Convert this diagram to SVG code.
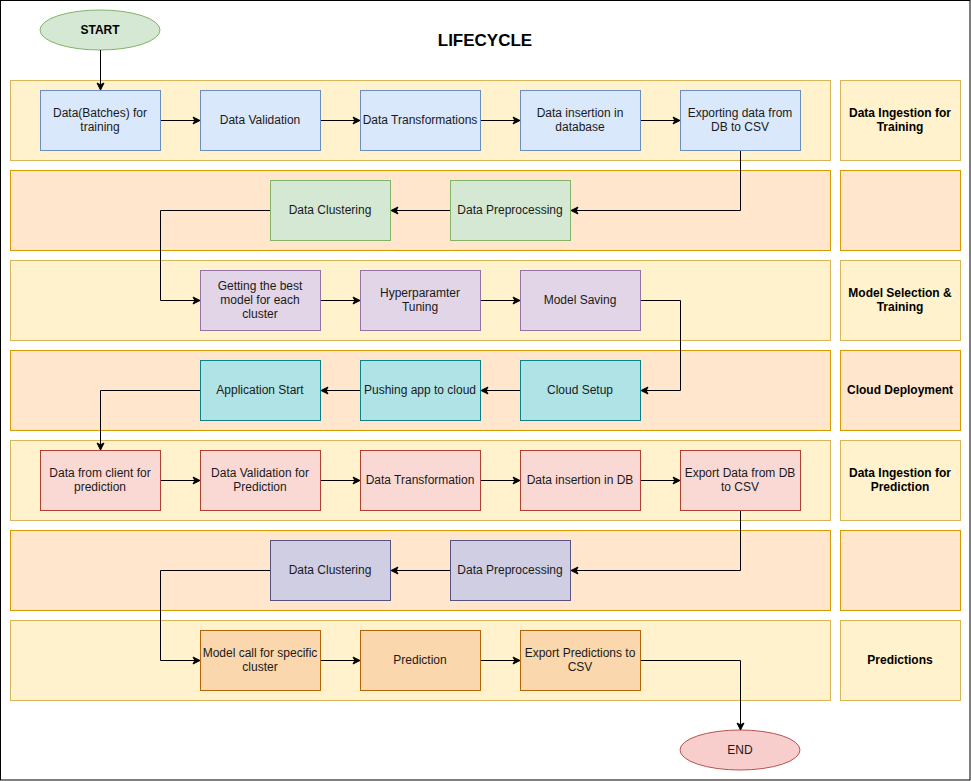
<svg xmlns="http://www.w3.org/2000/svg" width="971" height="781" viewBox="0 0 971 781">
<defs>
<marker id="arr" markerWidth="10" markerHeight="10" refX="8" refY="5" orient="auto" markerUnits="userSpaceOnUse">
<path d="M1,1.5 L8,5 L1,8.5 L2.8,5 Z" fill="#000" stroke="#000" stroke-width="1"/>
</marker>
<style>
text{font-family:"Liberation Sans",Arial,Helvetica,sans-serif;font-size:12px;fill:#1a1a1a;text-anchor:middle;dominant-baseline:central}
.b{font-weight:bold;fill:#000}
.ly{fill:#fff2cc;stroke:#d6b656}
.lo{fill:#ffe6cc;stroke:#d79b00}
.c1{fill:#dae8fc;stroke:#6c8ebf}
.c2{fill:#d5e8d4;stroke:#82b366}
.c3{fill:#e1d5e7;stroke:#9673a6}
.c4{fill:#b0e3e6;stroke:#0e8088}
.c5{fill:#fad9d5;stroke:#ae4132}
.c6{fill:#d0cee2;stroke:#56517e}
.c7{fill:#fad7ac;stroke:#b46504}
.e{fill:none;stroke:#000;stroke-width:1;marker-end:url(#arr)}
</style>
</defs>
<rect x="0" y="0" width="971" height="781" fill="#fff"/>
<rect x="0.5" y="0.5" width="969.5" height="779.5" fill="none" stroke="#000"/>
<g id="lanes">
<rect class="ly" x="10.5" y="80.5" width="820" height="80"/>
<rect class="lo" x="10.5" y="170.5" width="820" height="80"/>
<rect class="ly" x="10.5" y="260.5" width="820" height="80"/>
<rect class="lo" x="10.5" y="350.5" width="820" height="80"/>
<rect class="ly" x="10.5" y="440.5" width="820" height="80"/>
<rect class="lo" x="10.5" y="530.5" width="820" height="80"/>
<rect class="ly" x="10.5" y="620.5" width="820" height="80"/>
</g>
<g id="label-ingest-train"><rect class="ly" x="840.5" y="80.5" width="120" height="80"/><text class="b" x="900" y="113">Data Ingestion for</text><text class="b" x="900" y="127">Training</text></g>
<g id="label-empty1"><rect class="lo" x="840.5" y="170.5" width="120" height="80"/></g>
<g id="label-model"><rect class="ly" x="840.5" y="260.5" width="120" height="80"/><text class="b" x="900" y="293">Model Selection &amp;</text><text class="b" x="900" y="307">Training</text></g>
<g id="label-cloud"><rect class="lo" x="840.5" y="350.5" width="120" height="80"/><text class="b" x="900" y="390">Cloud Deployment</text></g>
<g id="label-ingest-pred"><rect class="ly" x="840.5" y="440.5" width="120" height="80"/><text class="b" x="900" y="473">Data Ingestion for</text><text class="b" x="900" y="487">Prediction</text></g>
<g id="label-empty2"><rect class="lo" x="840.5" y="530.5" width="120" height="80"/></g>
<g id="label-pred"><rect class="ly" x="840.5" y="620.5" width="120" height="80"/><text class="b" x="900" y="660">Predictions</text></g>
<g id="title"><text class="b" x="485" y="40" style="font-size:17px">LIFECYCLE</text></g>
<g id="start"><ellipse cx="100" cy="30" rx="60" ry="20" fill="#d5e8d4" stroke="#82b366"/><text class="b" x="100" y="30">START</text></g>
<g id="end"><ellipse cx="740" cy="750" rx="60" ry="20" fill="#f8cecc" stroke="#b85450"/><text x="740" y="750">END</text></g>
<g id="n1"><rect class="c1" x="40.5" y="90.5" width="120" height="60"/><text x="100" y="113">Data(Batches) for</text><text x="100" y="127">training</text></g>
<g id="n2"><rect class="c1" x="200.5" y="90.5" width="120" height="60"/><text x="260" y="120">Data Validation</text></g>
<g id="n3"><rect class="c1" x="360.5" y="90.5" width="120" height="60"/><text x="420" y="120">Data Transformations</text></g>
<g id="n4"><rect class="c1" x="520.5" y="90.5" width="120" height="60"/><text x="580" y="113">Data insertion in</text><text x="580" y="127">database</text></g>
<g id="n5"><rect class="c1" x="680.5" y="90.5" width="120" height="60"/><text x="740" y="113">Exporting data from</text><text x="740" y="127">DB to CSV</text></g>
<g id="n6"><rect class="c2" x="450.5" y="180.5" width="120" height="60"/><text x="510" y="210">Data Preprocessing</text></g>
<g id="n7"><rect class="c2" x="270.5" y="180.5" width="120" height="60"/><text x="330" y="210">Data Clustering</text></g>
<g id="n8"><rect class="c3" x="200.5" y="270.5" width="120" height="60"/><text x="260" y="286">Getting the best</text><text x="260" y="300">model for each</text><text x="260" y="314">cluster</text></g>
<g id="n9"><rect class="c3" x="360.5" y="270.5" width="120" height="60"/><text x="420" y="293">Hyperparamter</text><text x="420" y="307">Tuning</text></g>
<g id="n10"><rect class="c3" x="520.5" y="270.5" width="120" height="60"/><text x="580" y="300">Model Saving</text></g>
<g id="n11"><rect class="c4" x="520.5" y="360.5" width="120" height="60"/><text x="580" y="390">Cloud Setup</text></g>
<g id="n12"><rect class="c4" x="360.5" y="360.5" width="120" height="60"/><text x="420" y="390">Pushing app to cloud</text></g>
<g id="n13"><rect class="c4" x="200.5" y="360.5" width="120" height="60"/><text x="260" y="390">Application Start</text></g>
<g id="n14"><rect class="c5" x="40.5" y="450.5" width="120" height="60"/><text x="100" y="473">Data from client for</text><text x="100" y="487">prediction</text></g>
<g id="n15"><rect class="c5" x="200.5" y="450.5" width="120" height="60"/><text x="260" y="473">Data Validation for</text><text x="260" y="487">Prediction</text></g>
<g id="n16"><rect class="c5" x="360.5" y="450.5" width="120" height="60"/><text x="420" y="480">Data Transformation</text></g>
<g id="n17"><rect class="c5" x="520.5" y="450.5" width="120" height="60"/><text x="580" y="480">Data insertion in DB</text></g>
<g id="n18"><rect class="c5" x="680.5" y="450.5" width="120" height="60"/><text x="740" y="473">Export Data from DB</text><text x="740" y="487">to CSV</text></g>
<g id="n19"><rect class="c6" x="450.5" y="540.5" width="120" height="60"/><text x="510" y="570">Data Preprocessing</text></g>
<g id="n20"><rect class="c6" x="270.5" y="540.5" width="120" height="60"/><text x="330" y="570">Data Clustering</text></g>
<g id="n21"><rect class="c7" x="200.5" y="630.5" width="120" height="60"/><text x="260" y="653">Model call for specific</text><text x="260" y="667">cluster</text></g>
<g id="n22"><rect class="c7" x="360.5" y="630.5" width="120" height="60"/><text x="420" y="660">Prediction</text></g>
<g id="n23"><rect class="c7" x="520.5" y="630.5" width="120" height="60"/><text x="580" y="653">Export Predictions to</text><text x="580" y="667">CSV</text></g>
<g id="connectors">
<path class="e" d="M100.5,50 V90"/>
<path class="e" d="M161,120.5 H200"/>
<path class="e" d="M321,120.5 H360"/>
<path class="e" d="M481,120.5 H520"/>
<path class="e" d="M641,120.5 H680"/>
<path class="e" d="M740.5,151 V210.5 H571"/>
<path class="e" d="M450,210.5 H391"/>
<path class="e" d="M270,210.5 H160.5 V300.5 H200"/>
<path class="e" d="M321,300.5 H360"/>
<path class="e" d="M481,300.5 H520"/>
<path class="e" d="M641,300.5 H680.5 V390.5 H641"/>
<path class="e" d="M520,390.5 H481"/>
<path class="e" d="M360,390.5 H321"/>
<path class="e" d="M200,390.5 H100.5 V450"/>
<path class="e" d="M161,480.5 H200"/>
<path class="e" d="M321,480.5 H360"/>
<path class="e" d="M481,480.5 H520"/>
<path class="e" d="M641,480.5 H680"/>
<path class="e" d="M740.5,511 V570.5 H571"/>
<path class="e" d="M450,570.5 H391"/>
<path class="e" d="M270,570.5 H160.5 V660.5 H200"/>
<path class="e" d="M321,660.5 H360"/>
<path class="e" d="M481,660.5 H520"/>
<path class="e" d="M641,660.5 H740.5 V730"/>
</g>
</svg>
